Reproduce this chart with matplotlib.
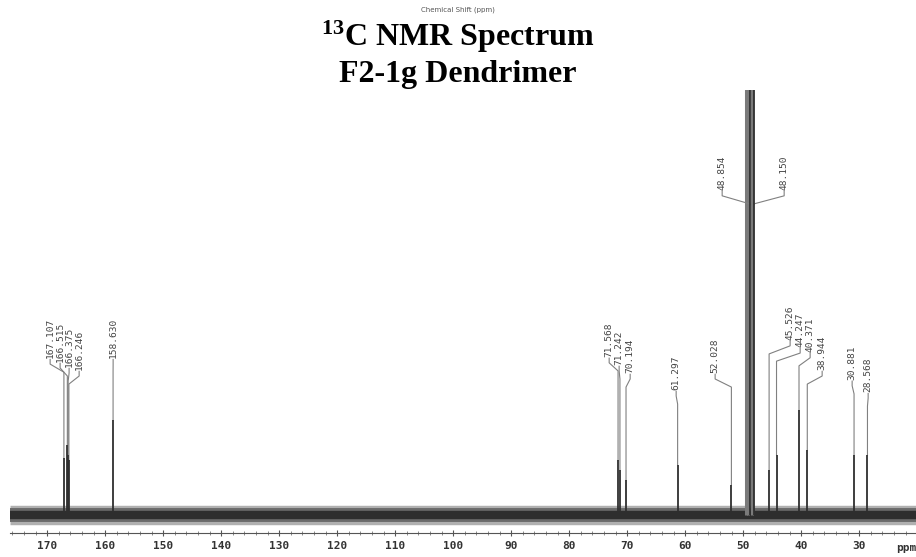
import matplotlib.pyplot as plt
from matplotlib.ticker import MultipleLocator

plt.rcParams["mathtext.fontset"] = "custom"
plt.rcParams["mathtext.rm"] = "Liberation Serif"
plt.rcParams["mathtext.bf"] = "Liberation Serif:bold"

# peak list (ppm, relative intensity; baseline = 0)
peak_ppm = [167.107, 166.515, 166.375, 166.246, 158.630,
            71.568, 71.242, 70.194, 61.297, 52.028,
            48.854, 48.150, 45.526, 44.247, 40.371, 38.944,
            30.881, 28.568]
peak_height = [13.4, 16.5, 14.1, 12.9, 22.4,
               12.9, 10.6, 8.2, 11.8, 7.1,
               130, 130, 10.6, 14.1, 24.7, 15.3,
               14.1, 14.1]
peak_labels = ["167.107", "166.515", "166.375", "166.246", "158.630",
               "71.568", "71.242", "70.194", "61.297", "52.028",
               "48.854", "48.150", "45.526", "44.247", "40.371", "38.944",
               "30.881", "28.568"]

# unlabelled lines of the solvent multiplet
solvent_ppm = [49.5, 49.2, 48.5]
solvent_height = [130, 130, 130]

tick_values = [170, 160, 150, 140, 130, 120, 110, 100, 90, 80, 70, 60, 50, 40, 30]

# where each label sits (ppm of text, intensity of text bottom)
label_x = [169.48, 167.76, 166.21, 164.48, 158.62,
           73.10, 71.38, 69.48, 61.55, 54.83,
           53.62, 42.93, 41.90, 40.17, 38.45, 36.38,
           31.21, 28.45]
label_y = [36.9, 36.0, 34.8, 34.1, 36.9,
           37.2, 35.3, 33.4, 29.4, 33.4,
           76.5, 76.5, 41.2, 39.5, 38.4, 34.1,
           31.8, 28.9]

fig = plt.figure(figsize=(9.16, 5.57), dpi=100)
ax = fig.add_axes([10 / 916, 1 - 533 / 557, 906 / 916, 443 / 557])
ax.set_xlim(176.4, 20.2)
ax.set_ylim(-4.24, 100)

# baseline noise band
ax.plot([176.4, 20.2], [0, 0], color="#b0b0b0", lw=14, solid_capstyle="butt", zorder=1)
ax.plot([176.4, 20.2], [0, 0], color="#6a6a6a", lw=10, solid_capstyle="butt", zorder=1)
ax.plot([176.4, 20.2], [0, 0], color="#2e2e2e", lw=6, solid_capstyle="butt", zorder=1)

# solvent multiplet
ax.vlines(solvent_ppm, 0, solvent_height, color="#7a7a7a", lw=2.2, zorder=2)

# peaks
ax.vlines(peak_ppm, 0, peak_height, color="#2f2f2f", lw=1.3, zorder=3)

# labels with leader lines
for p, h, lab, lx, ly in zip(peak_ppm, peak_height, peak_labels, label_x, label_y):
    top = min(h, 95)
    if lab.startswith("48"):
        top = ly - 3.5
    ax.plot([lx, lx, p, p], [ly - 0.3, ly - 1.4, ly - 3.3, top],
            color="#808080", lw=0.8, zorder=2)
    ax.text(lx, ly, lab, rotation=90, ha="center", va="bottom",
            fontsize=6.8, family="DejaVu Sans Mono", color="#444444")

# axis styling
for s in ["top", "left", "right"]:
    ax.spines[s].set_visible(False)
ax.spines["bottom"].set_color("#555555")
ax.spines["bottom"].set_linewidth(0.8)
ax.set_yticks([])
ax.set_xticks(tick_values)
ax.set_xticklabels([str(t) for t in tick_values], family="DejaVu Sans Mono",
                   fontweight="bold", fontsize=8, color="#333333")
ax.xaxis.set_minor_locator(MultipleLocator(2))
ax.tick_params(axis="x", which="major", direction="inout", length=5, width=0.8,
               color="#555555", pad=3)
ax.tick_params(axis="x", which="minor", direction="inout", length=3, width=0.6,
               color="#777777")
fig.text(896 / 916, 1 - 548 / 557, "ppm", ha="left", va="center",
         family="DejaVu Sans Mono", fontweight="bold", fontsize=8, color="#333333")

# titles
fig.text(0.5, 1 - 10 / 557, "Chemical Shift (ppm)", ha="center", va="center",
         fontsize=5, color="#555555")
fig.text(0.5, 1 - 37 / 557, r"$\mathbf{^{13}}$C NMR Spectrum", ha="center", va="center",
         family="Liberation Serif", fontweight="bold", fontsize=23)
fig.text(0.5, 1 - 75 / 557, "F2-1g Dendrimer", ha="center", va="center",
         family="Liberation Serif", fontweight="bold", fontsize=23)

fig.savefig("out.png", dpi=100)
